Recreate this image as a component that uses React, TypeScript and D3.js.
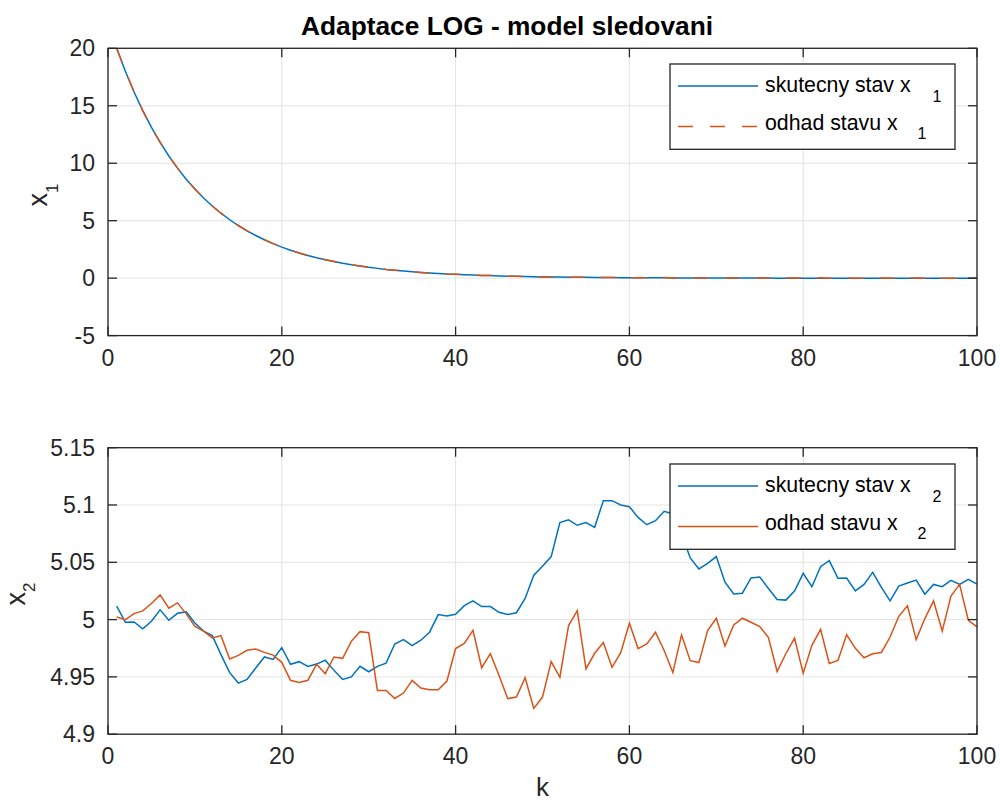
import React from "react";
import * as d3 from "d3";

const kValues: number[] = Array.from({ length: 100 }, (_, i) => i + 1);

const x1True: number[] = [
  20, 18, 16.2, 14.58, 13.12, 11.81, 10.63, 9.57, 8.61, 7.75,
  6.97, 6.28, 5.65, 5.08, 4.58, 4.12, 3.71, 3.34, 3.0, 2.7,
  2.43, 2.19, 1.97, 1.77, 1.6, 1.44, 1.29, 1.16, 1.05, 0.94,
  0.85, 0.76, 0.69, 0.62, 0.56, 0.5, 0.45, 0.41, 0.36, 0.33,
  0.3, 0.27, 0.24, 0.22, 0.19, 0.17, 0.16, 0.14, 0.13, 0.11,
  0.1, 0.09, 0.08, 0.07, 0.07, 0.06, 0.05, 0.05, 0.04, 0.04,
  0.04, 0.03, 0.03, 0.03, 0.02, 0.02, 0.02, 0.02, 0.02, 0.01,
  0.01, 0.01, 0.01, 0.01, 0.01, 0.01, 0.0, 0.0, 0.0, 0.0,
  0.0, 0.0, 0.0, 0.0, 0.0, 0.0, 0.0, 0.0, 0.0, 0.0,
  0.0, 0.0, 0.0, 0.0, 0.0, 0.0, 0.0, 0.0, 0.0, 0.0,
];

const x1Est: number[] = [
  20, 18, 16.2, 14.58, 13.12, 11.81, 10.63, 9.57, 8.61, 7.75,
  6.97, 6.28, 5.65, 5.08, 4.58, 4.12, 3.71, 3.34, 3.0, 2.7,
  2.43, 2.19, 1.97, 1.77, 1.6, 1.44, 1.29, 1.16, 1.05, 0.94,
  0.85, 0.76, 0.69, 0.62, 0.56, 0.5, 0.45, 0.41, 0.36, 0.33,
  0.3, 0.27, 0.24, 0.22, 0.19, 0.17, 0.16, 0.15, 0.13, 0.11,
  0.1, 0.09, 0.09, 0.07, 0.07, 0.06, 0.06, 0.05, 0.04, 0.04,
  0.04, 0.03, 0.04, 0.05, 0.02, 0.02, 0.03, 0.02, 0.02, 0.01,
  0.01, 0.01, 0.02, 0.01, 0.01, 0.0, 0.0, 0.01, 0.02, 0.02,
  0.0, 0.03, 0.0, 0.0, 0.01, 0.0, 0.0, 0.0, 0.01, 0.0,
  0.0, 0.0, 0.01, 0.0, 0.0, 0.0, 0.0, 0.0, 0.0, 0.0,
];

const x2True: number[] = [
  5.0117, 4.9977, 4.998, 4.992, 4.9985, 5.0085, 4.9994, 5.0055, 5.0067, 4.997,
  4.99, 4.986, 4.9694, 4.9537, 4.9446, 4.9478, 4.9577, 4.9674, 4.9653, 4.9755,
  4.961, 4.9633, 4.9592, 4.9612, 4.9645, 4.9557, 4.9478, 4.95, 4.9592, 4.9545,
  4.9592, 4.962, 4.9787, 4.9825, 4.9773, 4.982, 4.989, 5.0044, 5.0032, 5.0047,
  5.0122, 5.0163, 5.0114, 5.0114, 5.0064, 5.0044, 5.006, 5.0184, 5.0388, 5.0465,
  5.055, 5.0846, 5.087, 5.0823, 5.0846, 5.0805, 5.1038, 5.1038, 5.1, 5.0985,
  5.0892, 5.0828, 5.0863, 5.0945, 5.0922, 5.075, 5.0538, 5.0442, 5.049, 5.055,
  5.0326, 5.0224, 5.023, 5.0363, 5.0372, 5.0272, 5.0175, 5.017, 5.0249, 5.0404,
  5.0287, 5.0462, 5.0515, 5.036, 5.0363, 5.0251, 5.0307, 5.0412, 5.0281, 5.0164,
  5.0292, 5.0319, 5.0345, 5.0222, 5.0307, 5.0287, 5.0342, 5.0307, 5.0351, 5.031,
];

const x2Est: number[] = [
  5.0023, 5.0, 5.0052, 5.0076, 5.014, 5.0216, 5.01, 5.0146, 5.005, 4.994,
  4.99, 4.984, 4.986, 4.9656, 4.9688, 4.9732, 4.9744, 4.9714, 4.969, 4.9627,
  4.947, 4.9452, 4.947, 4.961, 4.9528, 4.9674, 4.9662, 4.981, 4.9895, 4.9886,
  4.9382, 4.9382, 4.9312, 4.9359, 4.947, 4.9403, 4.9388, 4.9388, 4.9464, 4.9747,
  4.9793, 4.9907, 4.958, 4.9703, 4.9513, 4.931, 4.9324, 4.9493, 4.9225, 4.9324,
  4.9634, 4.9497, 4.9948, 5.0078, 4.957, 4.9706, 4.98, 4.9584, 4.9712, 4.9968,
  4.9747, 4.9788, 4.989, 4.973, 4.9538, 4.9866, 4.9642, 4.9625, 4.9904, 5.0012,
  4.977, 4.9953, 5.0012, 4.9977, 4.994, 4.9844, 4.9547, 4.9702, 4.9839, 4.9532,
  4.9775, 4.9915, 4.9617, 4.9643, 4.9868, 4.9749, 4.9667, 4.9702, 4.9713, 4.9848,
  5.0029, 5.012, 4.9825, 5.0009, 5.0164, 4.99, 5.0205, 5.0307, 4.9994, 4.9936,
];

const xTicks: number[] = [0, 20, 40, 60, 80, 100];
const yTicksTop: number[] = [-5, 0, 5, 10, 15, 20];
const yTicksBot: number[] = [4.9, 4.95, 5, 5.05, 5.1, 5.15];

const titleText = "Adaptace LOG - model sledovani";
const legendTop = ["skutecny stav x", "odhad stavu x"];
const legendSubTop = "1";
const legendSubBot = "2";

const BLUE = "#0072BD";
const ORANGE = "#D95319";
const AXIS = "#262626";
const GRID = "#e3e3e3";
const FONT = "'Liberation Sans', Arial, Helvetica, sans-serif";

const L = 108;
const R = 977;

type PanelProps = {
  top: number;
  bottom: number;
  domain: [number, number];
  yTicks: number[];
  trueVals: number[];
  estVals: number[];
  dashed: boolean;
  sub: string;
  ylabelX: number;
  ylabelY: number;
  ylabelSubDy: number;
  legendBox: { x: number; y: number; w: number; h: number };
};

function Panel(p: PanelProps) {
  const x = d3.scaleLinear().domain([0, 100]).range([L, R]);
  const y = d3.scaleLinear().domain(p.domain).range([p.bottom, p.top]);
  const line = (vals: number[]) =>
    d3
      .line<number>()
      .x((_, i) => x(kValues[i]))
      .y((d) => y(d))(vals) || "";
  const tickLen = 9;
  const lb = p.legendBox;
  const row1 = lb.y + 22;
  const row2 = lb.y + 62.5;
  return (
    <g>
      {xTicks.map((t) => (
        <line key={"gx" + t} x1={x(t)} x2={x(t)} y1={p.top} y2={p.bottom} stroke={GRID} strokeWidth={1} />
      ))}
      {p.yTicks.map((t) => (
        <line key={"gy" + t} x1={L} x2={R} y1={y(t)} y2={y(t)} stroke={GRID} strokeWidth={1} />
      ))}
      <path d={line(p.trueVals)} fill="none" stroke={BLUE} strokeWidth={1.5} />
      <path
        d={line(p.estVals)}
        fill="none"
        stroke={ORANGE}
        strokeWidth={1.5}
        strokeDasharray={p.dashed ? "15,16" : undefined}
      />
      <rect x={L} y={p.top} width={R - L} height={p.bottom - p.top} fill="none" stroke={AXIS} strokeWidth={1.3} />
      {xTicks.map((t) => (
        <g key={"tx" + t}>
          <line x1={x(t)} x2={x(t)} y1={p.bottom} y2={p.bottom - tickLen} stroke={AXIS} strokeWidth={1.3} />
          <line x1={x(t)} x2={x(t)} y1={p.top} y2={p.top + tickLen} stroke={AXIS} strokeWidth={1.3} />
          <text x={x(t)} y={p.bottom + 30} textAnchor="middle" fontSize={23} fill={AXIS} fontFamily={FONT}>
            {t}
          </text>
        </g>
      ))}
      {p.yTicks.map((t) => (
        <g key={"ty" + t}>
          <line x1={L} x2={L + tickLen} y1={y(t)} y2={y(t)} stroke={AXIS} strokeWidth={1.3} />
          <line x1={R} x2={R - tickLen} y1={y(t)} y2={y(t)} stroke={AXIS} strokeWidth={1.3} />
          <text x={95} y={y(t) + 8} textAnchor="end" fontSize={23} fill={AXIS} fontFamily={FONT}>
            {String(t)}
          </text>
        </g>
      ))}
      <text
        transform={`translate(${p.ylabelX},${p.ylabelY}) rotate(-90)`}
        textAnchor="middle"
        fontSize={27}
        fill={AXIS}
        fontFamily={FONT}
      >
        x
        <tspan dy={p.ylabelSubDy} fontSize={17}>
          {p.sub}
        </tspan>
      </text>
      <rect x={lb.x} y={lb.y} width={lb.w} height={lb.h} fill="white" stroke={AXIS} strokeWidth={1.3} />
      <line x1={lb.x + 8} x2={lb.x + 88} y1={row1} y2={row1} stroke={BLUE} strokeWidth={1.5} />
      <line
        x1={lb.x + 8}
        x2={lb.x + 88}
        y1={row2}
        y2={row2}
        stroke={ORANGE}
        strokeWidth={1.5}
        strokeDasharray={p.dashed ? "15,17" : undefined}
      />
      <text x={lb.x + 95} y={row1 + 6.3} fontSize={21.3} fill="#000" fontFamily={FONT}>
        {legendTop[0]}
        <tspan dx={22} dy={9.4} fontSize={16}>
          {p.sub}
        </tspan>
      </text>
      <text x={lb.x + 95} y={row2 + 3} fontSize={21.3} fill="#000" fontFamily={FONT}>
        {legendTop[1]}
        <tspan dx={20} dy={9.8} fontSize={16}>
          {p.sub}
        </tspan>
      </text>
    </g>
  );
}

export default function App() {
  return (
    <svg
      width={1000}
      height={802}
      viewBox="0 0 1000 802"
      style={{ position: "absolute", left: 0, top: 0, display: "block", background: "white" }}
    >
      <rect x={0} y={0} width={1000} height={802} fill="white" />
      <text x={507} y={34.7} textAnchor="middle" fontSize={26.3} fontWeight="bold" fill="#000" fontFamily={FONT}>
        {titleText}
      </text>
      <Panel
        top={48.3}
        bottom={335.6}
        domain={[-5, 20]}
        yTicks={yTicksTop}
        trueVals={x1True}
        estVals={x1Est}
        dashed={true}
        sub={legendSubTop}
        ylabelX={46.6}
        ylabelY={195}
        ylabelSubDy={11}
        legendBox={{ x: 670, y: 64, w: 285, h: 85.3 }}
      />
      <Panel
        top={447.7}
        bottom={734.2}
        domain={[4.9, 5.15]}
        yTicks={yTicksBot}
        trueVals={x2True}
        estVals={x2Est}
        dashed={false}
        sub={legendSubBot}
        ylabelX={25}
        ylabelY={594}
        ylabelSubDy={10}
        legendBox={{ x: 670, y: 464, w: 285, h: 85.3 }}
      />
      <text x={542.5} y={796} textAnchor="middle" fontSize={26} fill={AXIS} fontFamily={FONT}>
        k
      </text>
    </svg>
  );
}
